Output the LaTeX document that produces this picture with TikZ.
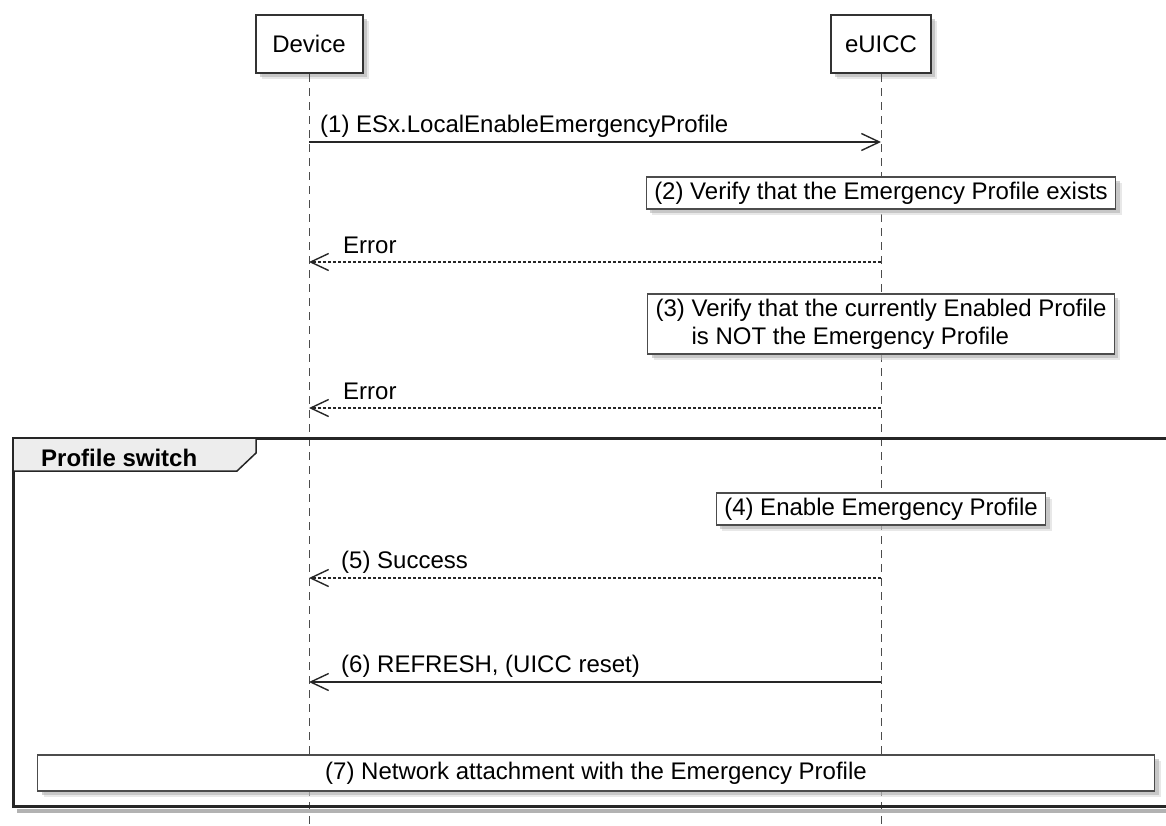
\documentclass[tikz,border=0pt]{standalone}
\usepackage{fontspec}
\setmainfont{Liberation Sans}
\usetikzlibrary{arrows.meta,shadows}

\begin{document}
\begin{tikzpicture}[x=1pt,y=-1pt,>={Straight Barb[length=18pt,width=17pt]},
  font=\fontsize{24}{28}\selectfont,
  shade/.style={drop shadow={shadow xshift=6pt,shadow yshift=-6pt,fill=black!18},
    drop shadow={shadow xshift=4pt,shadow yshift=-4pt,fill=black!35}},
  actor/.style={draw=black!80,line width=2pt,fill=white,minimum height=58pt,shade},
  life/.style={black!70,line width=1pt,dash pattern=on 8pt off 6pt},
  msg/.style={->,black!85,line width=1.4pt},
  reply/.style={msg,dash pattern=on 3pt off 2pt},
  lbl/.style={anchor=base west,inner sep=0pt},
  note/.style={draw=black!70,line width=1.2pt,fill=white,inner xsep=8pt,inner ysep=5pt,text height=17pt,text depth=5pt,shade}]
\useasboundingbox (0,0) rectangle (1166,825);
\coordinate (bot) at (0,825);
\node[actor,minimum width=107pt] (dev) at (309,44) {Device};
\node[actor,minimum width=100pt] (euicc) at (881,44) {eUICC};
\draw[life] (dev.south) -- (dev.south |- bot);
\draw[life] (euicc.south) -- (euicc.south |- bot);

\coordinate (d1) at (309,142); \coordinate (e1) at (881,142);
\draw[msg] (d1) -- (e1);
\node[lbl] (l1) at (320,132) {(1) ESx.LocalEnableEmergencyProfile};

\node[note] (n2) at (881,193) {(2) Verify that the Emergency Profile exists};

\coordinate (d2) at (309,262); \coordinate (e2) at (881,262);
\draw[reply] (e2) -- (d2);
\node[lbl] (l2) at (343,253) {Error};

\node[note,text height=45pt,align=left] (n3) at (881,324) {(3) Verify that the currently Enabled Profile\\\hspace*{36pt}is NOT the Emergency Profile};

\coordinate (d3) at (309,408); \coordinate (e3) at (881,408);
\draw[reply] (e3) -- (d3);
\node[lbl] (l3) at (343,399) {Error};

\draw[black!30,line width=4pt] (17,811) -- (1170,811);
\draw[black!85,line width=3pt] (1175,438) -- (13,438) -- (13,806) -- (1175,806);
\draw[black!85,line width=1.5pt,fill=black!7] (13,438) -- (256,438) -- (256,453) -- (237,471) -- (13,471) -- cycle;
\node[lbl,font=\fontsize{24}{28}\selectfont\bfseries] (grp) at (41,466) {Profile switch};

\node[note] (n4) at (881,509) {(4) Enable Emergency Profile};

\coordinate (d5) at (309,578); \coordinate (e5) at (881,578);
\draw[reply] (e5) -- (d5);
\node[lbl] (l5) at (341,568) {(5) Success};

\coordinate (d6) at (309,682); \coordinate (e6) at (881,682);
\draw[msg] (e6) -- (d6);
\node[lbl] (l6) at (341,672) {(6) REFRESH, (UICC reset)};

\node[note,minimum width=1117pt,text height=19pt,text depth=7pt] (n7) at (596,773) {(7) Network attachment with the Emergency Profile};
\end{tikzpicture}
\end{document}
